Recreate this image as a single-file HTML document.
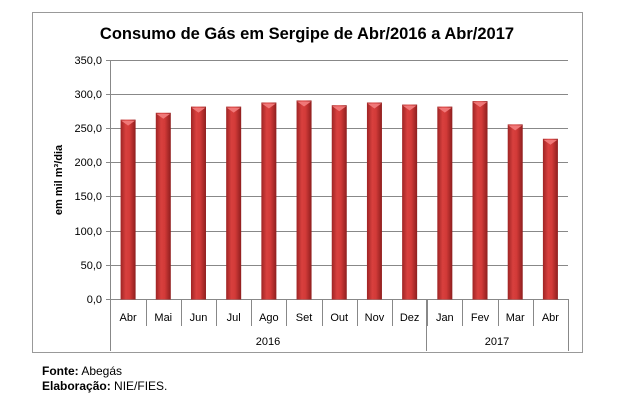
<!DOCTYPE html>
<html><head><meta charset="utf-8"><style>
body{margin:0;background:#fff;width:631px;height:413px;overflow:hidden}
</style></head><body>
<svg width="631" height="413" xmlns="http://www.w3.org/2000/svg" font-family="Liberation Sans, sans-serif">
<defs>
<linearGradient id="g" x1="0" x2="1" y1="0" y2="0">
<stop offset="0" stop-color="#9e2424"/><stop offset="0.35" stop-color="#d8403e"/><stop offset="0.6" stop-color="#d23a38"/><stop offset="1" stop-color="#8e1e1e"/>
</linearGradient>
</defs>
<rect x="32.5" y="12.5" width="550" height="340" fill="#fff" stroke="#999" stroke-width="1"/>
<text x="307" y="39" font-size="16.5" font-weight="bold" text-anchor="middle" fill="#000">Consumo de Gás em Sergipe de Abr/2016 a Abr/2017</text>
<g stroke="#888" stroke-width="1">
<line x1="110.5" y1="60.5" x2="568" y2="60.5"/>
<line x1="110.5" y1="94.5" x2="568" y2="94.5"/>
<line x1="110.5" y1="128.5" x2="568" y2="128.5"/>
<line x1="110.5" y1="162.5" x2="568" y2="162.5"/>
<line x1="110.5" y1="196.5" x2="568" y2="196.5"/>
<line x1="110.5" y1="231.5" x2="568" y2="231.5"/>
<line x1="110.5" y1="265.5" x2="568" y2="265.5"/>
<line x1="106" y1="299.5" x2="568" y2="299.5"/>
<line x1="110.5" y1="60" x2="110.5" y2="351"/>
<line x1="426.5" y1="299" x2="426.5" y2="351"/>
<line x1="568.5" y1="299" x2="568.5" y2="351"/>
<line x1="106" y1="60.5" x2="110" y2="60.5"/><line x1="106" y1="94.5" x2="110" y2="94.5"/><line x1="106" y1="128.5" x2="110" y2="128.5"/><line x1="106" y1="162.5" x2="110" y2="162.5"/><line x1="106" y1="196.5" x2="110" y2="196.5"/><line x1="106" y1="231.5" x2="110" y2="231.5"/><line x1="106" y1="265.5" x2="110" y2="265.5"/>
</g>
<g stroke="#888" stroke-width="1" id="cat"></g>
<g font-size="11" fill="#000" text-anchor="end">
<text x="102" y="64">350,0</text><text x="102" y="98">300,0</text><text x="102" y="132">250,0</text><text x="102" y="166">200,0</text><text x="102" y="200">150,0</text><text x="102" y="235">100,0</text><text x="102" y="269">50,0</text><text x="102" y="303">0,0</text>
</g>
<text transform="translate(62,180) rotate(-90)" font-size="11" font-weight="bold" text-anchor="middle">em mil m³/dia</text>
<g id="bars"></g>
<text x="268" y="345" font-size="11" text-anchor="middle">2016</text>
<text x="497" y="345" font-size="11" text-anchor="middle">2017</text>
<text x="42" y="375" font-size="12"><tspan font-weight="bold">Fonte:</tspan> Abegás</text>
<text x="42" y="390" font-size="12"><tspan font-weight="bold">Elaboração:</tspan> NIE/FIES.</text>
<script>
var v=[263,273,282,282,288,291,284,288,285,282,290,256,235],m=["Abr","Mai","Jun","Jul","Ago","Set","Out","Nov","Dez","Jan","Fev","Mar","Abr"];
var ns="http://www.w3.org/2000/svg",b=document.getElementById("bars"),c=document.getElementById("cat"),w=(568-110.5)/13;
for(var i=0;i<13;i++){var cx=110.5+w*(i+0.5),y=299.5-v[i]*0.684;
var r=document.createElementNS(ns,"rect");r.setAttribute("x",cx-7.5);r.setAttribute("y",y);r.setAttribute("width",15);r.setAttribute("height",299.5-y);r.setAttribute("fill","url(#g)");b.appendChild(r);
var p=document.createElementNS(ns,"polygon");p.setAttribute("points",(cx-7)+","+(y+1)+" "+(cx+7)+","+(y+1)+" "+cx+","+(y+6));p.setAttribute("fill","#f07878");b.appendChild(p);
var t=document.createElementNS(ns,"text");t.setAttribute("x",cx);t.setAttribute("y",321);t.setAttribute("font-size","11");t.setAttribute("text-anchor","middle");t.textContent=m[i];b.appendChild(t);
if(i>0){var l=document.createElementNS(ns,"line");var x=Math.round(110.5+w*i)+0.5;l.setAttribute("x1",x);l.setAttribute("x2",x);l.setAttribute("y1",299);l.setAttribute("y2",326);c.appendChild(l);}}
</script>
</svg>
</body></html>
